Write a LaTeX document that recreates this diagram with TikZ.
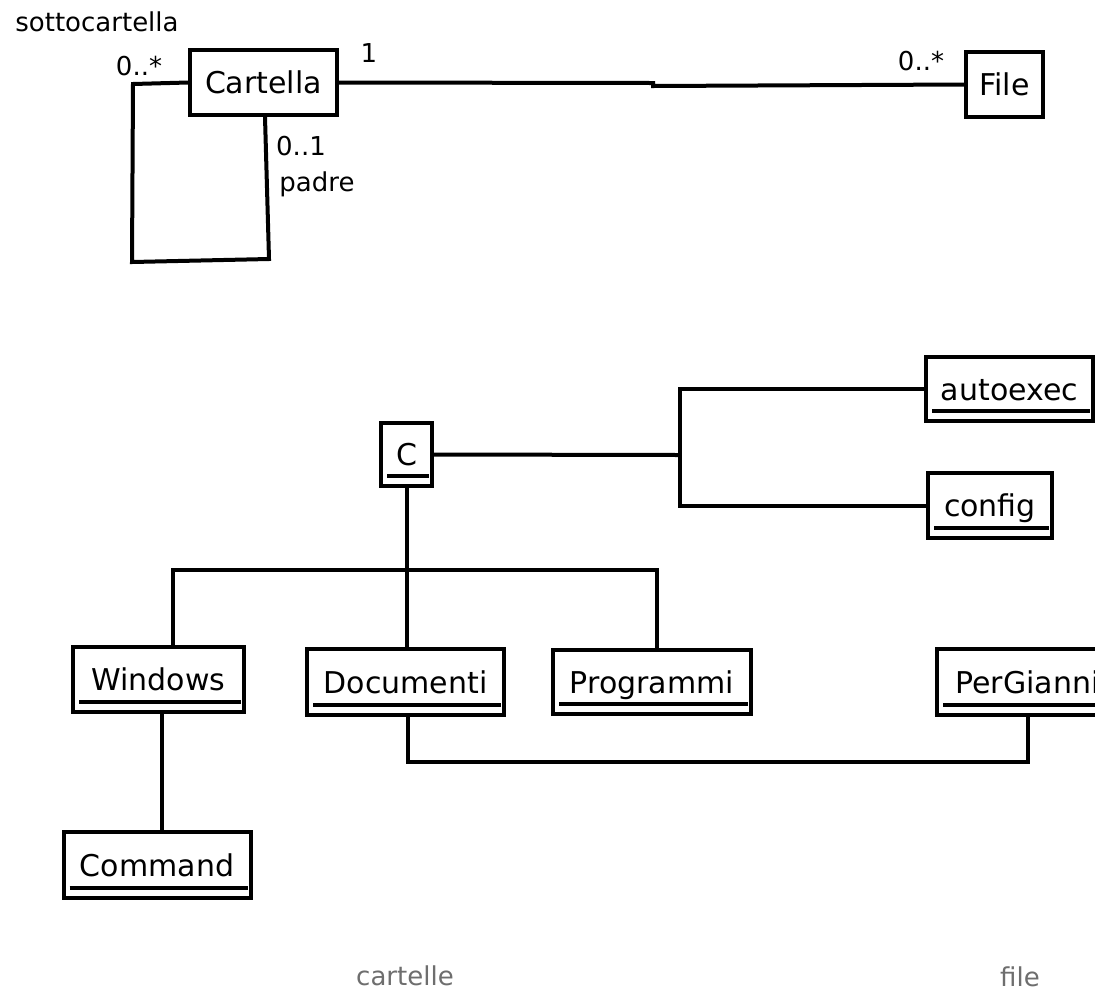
\documentclass[tikz,border=0pt]{standalone}
\usepackage{fontspec}
\setmainfont{DejaVu Sans}
\usetikzlibrary{calc}
\definecolor{notegray}{HTML}{6E6E6E}
\tikzset{
  objbox/.style={draw, line width=4pt, inner sep=0pt, text height=22pt, text depth=0pt,
    font=\fontsize{30}{36}\selectfont},
  conn/.style={line width=4pt, line join=miter},
  uline/.style={line width=4pt},
  rolelabel/.style={font=\fontsize{26}{30}\selectfont, inner sep=0pt},
  notelabel/.style={font=\fontsize{26}{30}\selectfont, text=notegray, inner sep=0pt}
}
% underline of an instance box, drawn just above its lower edge
\newcommand{\objline}[1]{\draw[uline] ([xshift=8pt,yshift=12pt]#1.south west) -- ([xshift=-5pt,yshift=12pt]#1.south east);}
\begin{document}
\begin{tikzpicture}[x=1pt,y=-1pt]
\useasboundingbox (0,0) rectangle (1095,1005);
\fill[white] (0,0) rectangle (1095,1005);
\clip (0,0) rectangle (1095,1005);

% ---- class diagram ----
\node[objbox, minimum width=147pt, minimum height=65pt] (cartella) at (263.5,82.5) {Cartella};
\node[objbox, minimum width=77pt, minimum height=65pt] (file) at (1004.5,84.5) {File};

\draw[conn] (cartella.east) -- (653,83) -- (653,86) -- (file.west);
\draw[conn] (cartella.west) -- (133,84) -- (132,262) -- (269,259) -- ([xshift=1.5pt]cartella.south);

\node[rolelabel] (sotto) at (97,22) {sottocartella};
\node[rolelabel] (mlow) at (139,66) {0..*};
\node[rolelabel] (one) at (369,53) {1};
\node[rolelabel] (zo) at (301,146) {0..1};
\node[rolelabel] (padre) at (317,184) {padre};
\node[rolelabel] (mfile) at (921,61) {0..*};

% ---- object diagram ----
\node[objbox, minimum width=51pt, minimum height=63pt] (c) at (406.5,454.5) {C};
\node[objbox, minimum width=167pt, minimum height=64pt] (autoexec) at (1009.5,389) {autoexec};
\node[objbox, minimum width=124pt, minimum height=65pt] (config) at (990,505.5) {config};
\node[objbox, minimum width=171pt, minimum height=65pt] (windows) at (158.5,679.5) {Windows};
\node[objbox, minimum width=197pt, minimum height=66pt] (documenti) at (405.5,682) {Documenti};
\node[objbox, minimum width=198pt, minimum height=64pt] (programmi) at (652,682) {Programmi};
\node[objbox, minimum width=181pt, minimum height=66pt] (pergianni) at (1027.5,682) {PerGianni};
\node[objbox, minimum width=187pt, minimum height=66pt] (command) at (157,865) {Command};

\foreach \n in {c,autoexec,config,windows,documenti,programmi,pergianni,command} {\objline{\n}}

\coordinate (fork) at (680,455);
\coordinate (bus) at (407,570);
\draw[conn] (c.east) -- (fork);
\draw[conn] (autoexec.west) -| (fork) |- (config.west);
\draw[conn] ([xshift=0.5pt]c.south) -- ([xshift=1.5pt]documenti.north);
\draw[conn] ([xshift=14.5pt]windows.north) |- (bus) -| ([xshift=5pt]programmi.north);
\draw[conn] ([xshift=3.5pt]windows.south) -- ([xshift=5pt]command.north);
\draw[conn] ([xshift=2.5pt]documenti.south) -- ++(0,45) -| (pergianni.south);

\node[notelabel] (cartelle) at (405,976) {cartelle};
\node[notelabel] (filenote) at (1020,977) {file};
\end{tikzpicture}
\end{document}
